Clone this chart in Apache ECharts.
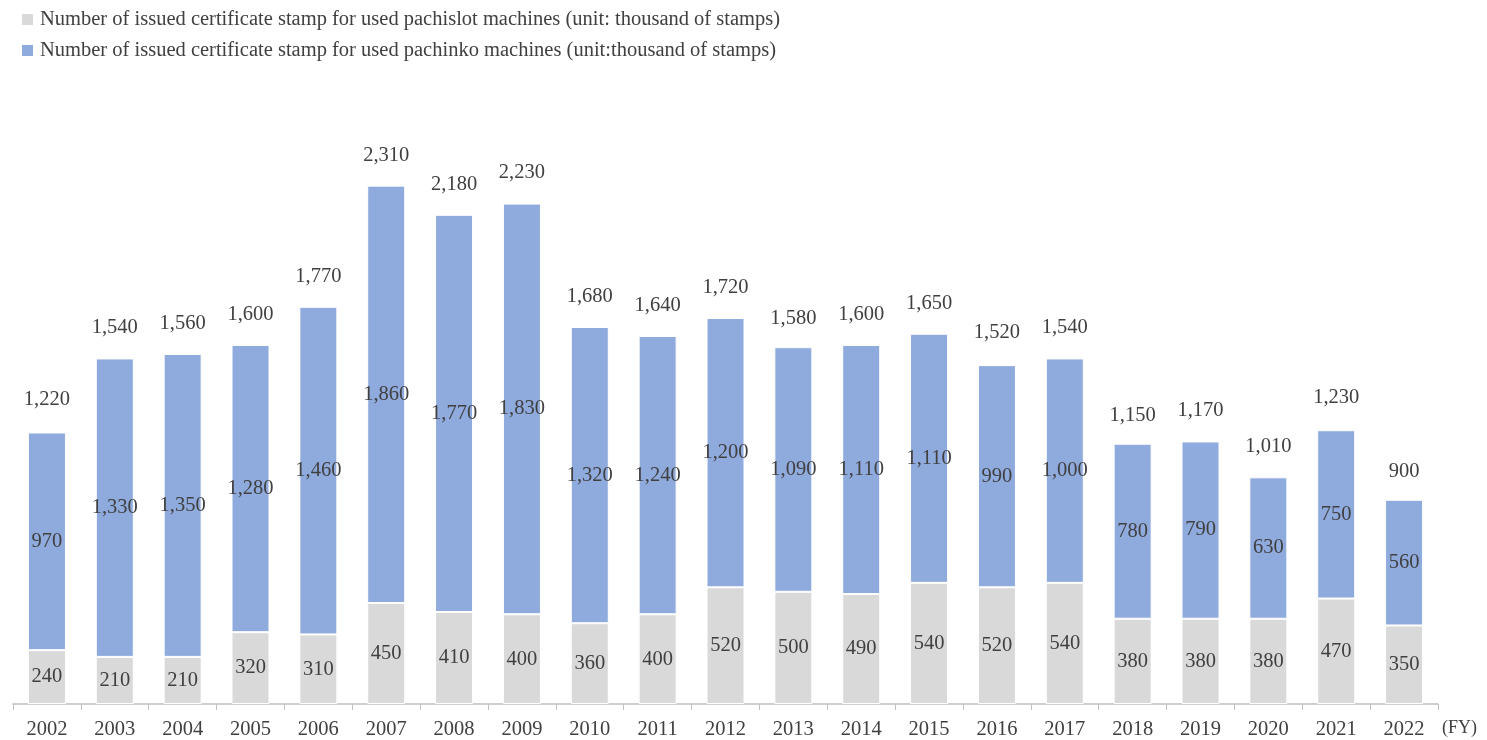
<!DOCTYPE html>
<html><head><meta charset="utf-8">
<script src="https://cdn.jsdelivr.net/npm/echarts@6/dist/echarts.min.js"></script>
<style>html,body{margin:0;padding:0;background:#fff}#c{width:1487px;height:740px}</style>
</head><body><div id="c"></div>
<script>
const years = ['2002','2003','2004','2005','2006','2007','2008','2009','2010','2011','2012','2013','2014','2015','2016','2017','2018','2019','2020','2021','2022'];
const pachislot = [240,210,210,320,310,450,410,400,360,400,520,500,490,540,520,540,380,380,380,470,350];
const pachinko = [970,1330,1350,1280,1460,1860,1770,1830,1320,1240,1200,1090,1110,1110,990,1000,780,790,630,750,560];
const totals = [1220,1540,1560,1600,1770,2310,2180,2230,1680,1640,1720,1580,1600,1650,1520,1540,1150,1170,1010,1230,900];
const legendNames = ['Number of issued certificate stamp for used pachislot machines (unit: thousand of stamps)','Number of issued certificate stamp for used pachinko machines (unit:thousand of stamps)'];
const fmt = v => Number(v).toLocaleString('en-US');
const FONT = 'Liberation Serif';
const TXT = '#404040';
const FS = 20.5;
const chart = echarts.init(document.getElementById('c'));
chart.setOption({
  animation:false,
  textStyle:{fontFamily:FONT},
  legend:{orient:'vertical',left:22,top:9,padding:0,itemWidth:11,itemHeight:11,itemGap:10,icon:'rect',
    itemStyle:{borderWidth:0},
    data:legendNames,textStyle:{fontFamily:FONT,fontSize:FS,color:TXT,padding:[0,0,0,2]}},
  grid:{left:13,right:49,top:143,bottom:34},
  xAxis:{type:'category',data:years,
    axisLine:{lineStyle:{color:'#bfbfbf',width:1.5}},
    axisTick:{show:true,length:6,lineStyle:{color:'#bfbfbf'}},
    axisLabel:{fontFamily:FONT,fontSize:FS,color:TXT,margin:15}},
  yAxis:{type:'value',min:0,max:2500,show:false,splitLine:{show:false}},
  graphic:[{type:'text',left:1442,top:719,style:{text:'(FY)',fontFamily:FONT,fontSize:18,fill:TXT}}],
  series:[
    {name:legendNames[0],type:'bar',stack:'s',data:pachislot,barWidth:'56%',
      itemStyle:{color:'#d9d9d9',borderColor:'#fff',borderWidth:1},
      label:{show:true,position:'inside',formatter:p=>fmt(p.value),fontFamily:FONT,fontSize:FS,color:TXT}},
    {name:legendNames[1],type:'bar',stack:'s',data:pachinko,barWidth:'56%',
      itemStyle:{color:'#8faadc',borderColor:'#fff',borderWidth:1},
      label:{show:true,position:'inside',formatter:p=>fmt(p.value),fontFamily:FONT,fontSize:FS,color:TXT}},
    {name:'total',type:'bar',data:totals,barWidth:'56%',barGap:'-100%',z:0,
      itemStyle:{color:'rgba(0,0,0,0)'},silent:true,
      label:{show:true,position:'top',distance:20,formatter:p=>fmt(p.value),fontFamily:FONT,fontSize:FS,color:TXT}}
  ]
});
</script></body></html>
